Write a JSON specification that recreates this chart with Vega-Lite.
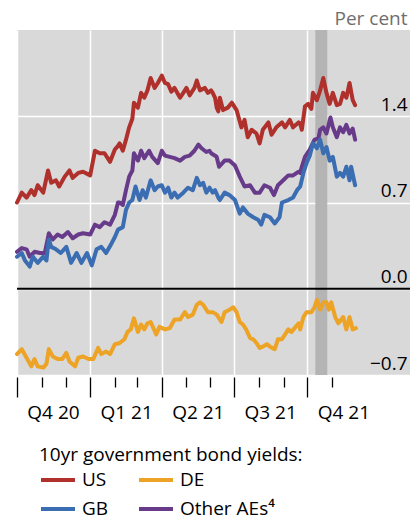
{
  "$schema": "https://vega.github.io/schema/vega-lite/v6.json",
  "width": 393,
  "height": 345,
  "autosize": {"type": "none"},
  "padding": {"left": 17, "top": 30, "right": 6, "bottom": 145},
  "background": "white",
  "view": {"fill": "#d9d9d9", "stroke": null},
  "config": {
    "font": "Open Sans",
    "axis": {"labelFont": "Open Sans", "titleFont": "Open Sans"},
    "legend": {"labelFont": "Open Sans", "titleFont": "Open Sans"}
  },
  "layer": [
    {
      "data": {"values": [{"d": "2021-10-11", "d2": "2021-10-26"}]},
      "mark": {"type": "rect", "color": "#b4b4b4"},
      "encoding": {
        "x": {"field": "d", "type": "temporal", "title": null},
        "x2": {"field": "d2"}
      }
    },
    {
      "data": {"values": [
        {"d":"2020-10-01","s":"US","v":0.70},{"d":"2020-10-07","s":"US","v":0.78},{"d":"2020-10-13","s":"US","v":0.74},{"d":"2020-10-19","s":"US","v":0.80},{"d":"2020-10-23","s":"US","v":0.76},{"d":"2020-10-27","s":"US","v":0.84},{"d":"2020-11-03","s":"US","v":0.78},{"d":"2020-11-09","s":"US","v":0.96},{"d":"2020-11-13","s":"US","v":0.86},{"d":"2020-11-19","s":"US","v":0.88},{"d":"2020-11-23","s":"US","v":0.83},{"d":"2020-11-30","s":"US","v":0.91},{"d":"2020-12-06","s":"US","v":0.96},{"d":"2020-12-10","s":"US","v":0.90},{"d":"2020-12-17","s":"US","v":0.94},{"d":"2020-12-23","s":"US","v":0.95},{"d":"2021-01-01","s":"US","v":0.92},{"d":"2021-01-07","s":"US","v":1.12},{"d":"2021-01-13","s":"US","v":1.10},{"d":"2021-01-19","s":"US","v":1.10},{"d":"2021-01-26","s":"US","v":1.03},{"d":"2021-02-01","s":"US","v":1.13},{"d":"2021-02-05","s":"US","v":1.16},{"d":"2021-02-07","s":"US","v":1.18},{"d":"2021-02-11","s":"US","v":1.12},{"d":"2021-02-15","s":"US","v":1.21},{"d":"2021-02-19","s":"US","v":1.31},{"d":"2021-02-23","s":"US","v":1.38},{"d":"2021-02-25","s":"US","v":1.51},{"d":"2021-03-02","s":"US","v":1.47},{"d":"2021-03-06","s":"US","v":1.59},{"d":"2021-03-10","s":"US","v":1.55},{"d":"2021-03-14","s":"US","v":1.61},{"d":"2021-03-18","s":"US","v":1.71},{"d":"2021-03-23","s":"US","v":1.63},{"d":"2021-03-27","s":"US","v":1.67},{"d":"2021-04-01","s":"US","v":1.73},{"d":"2021-04-05","s":"US","v":1.67},{"d":"2021-04-09","s":"US","v":1.66},{"d":"2021-04-13","s":"US","v":1.60},{"d":"2021-04-17","s":"US","v":1.63},{"d":"2021-04-24","s":"US","v":1.55},{"d":"2021-04-28","s":"US","v":1.59},{"d":"2021-05-02","s":"US","v":1.63},{"d":"2021-05-06","s":"US","v":1.57},{"d":"2021-05-12","s":"US","v":1.63},{"d":"2021-05-15","s":"US","v":1.69},{"d":"2021-05-19","s":"US","v":1.61},{"d":"2021-05-25","s":"US","v":1.63},{"d":"2021-05-29","s":"US","v":1.59},{"d":"2021-06-02","s":"US","v":1.61},{"d":"2021-06-04","s":"US","v":1.59},{"d":"2021-06-07","s":"US","v":1.55},{"d":"2021-06-09","s":"US","v":1.47},{"d":"2021-06-11","s":"US","v":1.44},{"d":"2021-06-13","s":"US","v":1.55},{"d":"2021-06-17","s":"US","v":1.45},{"d":"2021-06-23","s":"US","v":1.47},{"d":"2021-06-28","s":"US","v":1.51},{"d":"2021-07-04","s":"US","v":1.45},{"d":"2021-07-10","s":"US","v":1.31},{"d":"2021-07-14","s":"US","v":1.37},{"d":"2021-07-18","s":"US","v":1.23},{"d":"2021-07-23","s":"US","v":1.29},{"d":"2021-07-29","s":"US","v":1.26},{"d":"2021-08-02","s":"US","v":1.18},{"d":"2021-08-06","s":"US","v":1.29},{"d":"2021-08-13","s":"US","v":1.35},{"d":"2021-08-17","s":"US","v":1.25},{"d":"2021-08-23","s":"US","v":1.31},{"d":"2021-08-30","s":"US","v":1.35},{"d":"2021-09-03","s":"US","v":1.31},{"d":"2021-09-09","s":"US","v":1.37},{"d":"2021-09-13","s":"US","v":1.31},{"d":"2021-09-20","s":"US","v":1.35},{"d":"2021-09-22","s":"US","v":1.34},{"d":"2021-09-24","s":"US","v":1.29},{"d":"2021-09-28","s":"US","v":1.48},{"d":"2021-10-02","s":"US","v":1.50},{"d":"2021-10-06","s":"US","v":1.46},{"d":"2021-10-08","s":"US","v":1.59},{"d":"2021-10-13","s":"US","v":1.53},{"d":"2021-10-17","s":"US","v":1.61},{"d":"2021-10-21","s":"US","v":1.71},{"d":"2021-10-25","s":"US","v":1.59},{"d":"2021-10-29","s":"US","v":1.50},{"d":"2021-11-02","s":"US","v":1.59},{"d":"2021-11-07","s":"US","v":1.49},{"d":"2021-11-11","s":"US","v":1.50},{"d":"2021-11-15","s":"US","v":1.59},{"d":"2021-11-19","s":"US","v":1.55},{"d":"2021-11-23","s":"US","v":1.67},{"d":"2021-11-27","s":"US","v":1.53},{"d":"2021-11-30","s":"US","v":1.49},
        {"d":"2020-10-01","s":"DE","v":-0.53},{"d":"2020-10-07","s":"DE","v":-0.49},{"d":"2020-10-13","s":"DE","v":-0.56},{"d":"2020-10-19","s":"DE","v":-0.63},{"d":"2020-10-23","s":"DE","v":-0.57},{"d":"2020-10-27","s":"DE","v":-0.63},{"d":"2020-11-03","s":"DE","v":-0.64},{"d":"2020-11-07","s":"DE","v":-0.61},{"d":"2020-11-10","s":"DE","v":-0.49},{"d":"2020-11-15","s":"DE","v":-0.55},{"d":"2020-11-21","s":"DE","v":-0.57},{"d":"2020-11-27","s":"DE","v":-0.57},{"d":"2020-12-02","s":"DE","v":-0.52},{"d":"2020-12-06","s":"DE","v":-0.59},{"d":"2020-12-13","s":"DE","v":-0.63},{"d":"2020-12-17","s":"DE","v":-0.56},{"d":"2020-12-23","s":"DE","v":-0.55},{"d":"2020-12-30","s":"DE","v":-0.57},{"d":"2021-01-05","s":"DE","v":-0.57},{"d":"2021-01-11","s":"DE","v":-0.48},{"d":"2021-01-15","s":"DE","v":-0.53},{"d":"2021-01-21","s":"DE","v":-0.51},{"d":"2021-01-26","s":"DE","v":-0.53},{"d":"2021-02-01","s":"DE","v":-0.45},{"d":"2021-02-07","s":"DE","v":-0.44},{"d":"2021-02-13","s":"DE","v":-0.41},{"d":"2021-02-17","s":"DE","v":-0.35},{"d":"2021-02-21","s":"DE","v":-0.33},{"d":"2021-02-25","s":"DE","v":-0.24},{"d":"2021-03-02","s":"DE","v":-0.35},{"d":"2021-03-06","s":"DE","v":-0.29},{"d":"2021-03-10","s":"DE","v":-0.33},{"d":"2021-03-14","s":"DE","v":-0.28},{"d":"2021-03-18","s":"DE","v":-0.27},{"d":"2021-03-25","s":"DE","v":-0.37},{"d":"2021-03-29","s":"DE","v":-0.31},{"d":"2021-04-05","s":"DE","v":-0.33},{"d":"2021-04-11","s":"DE","v":-0.32},{"d":"2021-04-17","s":"DE","v":-0.25},{"d":"2021-04-24","s":"DE","v":-0.25},{"d":"2021-04-30","s":"DE","v":-0.19},{"d":"2021-05-04","s":"DE","v":-0.23},{"d":"2021-05-10","s":"DE","v":-0.21},{"d":"2021-05-15","s":"DE","v":-0.13},{"d":"2021-05-19","s":"DE","v":-0.11},{"d":"2021-05-23","s":"DE","v":-0.13},{"d":"2021-05-29","s":"DE","v":-0.19},{"d":"2021-06-04","s":"DE","v":-0.19},{"d":"2021-06-09","s":"DE","v":-0.21},{"d":"2021-06-15","s":"DE","v":-0.27},{"d":"2021-06-19","s":"DE","v":-0.19},{"d":"2021-06-25","s":"DE","v":-0.17},{"d":"2021-06-30","s":"DE","v":-0.15},{"d":"2021-07-04","s":"DE","v":-0.19},{"d":"2021-07-08","s":"DE","v":-0.27},{"d":"2021-07-12","s":"DE","v":-0.29},{"d":"2021-07-16","s":"DE","v":-0.33},{"d":"2021-07-21","s":"DE","v":-0.40},{"d":"2021-07-25","s":"DE","v":-0.41},{"d":"2021-07-29","s":"DE","v":-0.44},{"d":"2021-08-02","s":"DE","v":-0.48},{"d":"2021-08-06","s":"DE","v":-0.47},{"d":"2021-08-11","s":"DE","v":-0.45},{"d":"2021-08-15","s":"DE","v":-0.47},{"d":"2021-08-21","s":"DE","v":-0.49},{"d":"2021-08-25","s":"DE","v":-0.41},{"d":"2021-08-30","s":"DE","v":-0.41},{"d":"2021-09-03","s":"DE","v":-0.37},{"d":"2021-09-07","s":"DE","v":-0.33},{"d":"2021-09-11","s":"DE","v":-0.35},{"d":"2021-09-16","s":"DE","v":-0.31},{"d":"2021-09-20","s":"DE","v":-0.28},{"d":"2021-09-22","s":"DE","v":-0.33},{"d":"2021-09-26","s":"DE","v":-0.23},{"d":"2021-09-30","s":"DE","v":-0.19},{"d":"2021-10-06","s":"DE","v":-0.19},{"d":"2021-10-10","s":"DE","v":-0.15},{"d":"2021-10-13","s":"DE","v":-0.09},{"d":"2021-10-17","s":"DE","v":-0.17},{"d":"2021-10-21","s":"DE","v":-0.11},{"d":"2021-10-25","s":"DE","v":-0.11},{"d":"2021-10-28","s":"DE","v":-0.17},{"d":"2021-10-31","s":"DE","v":-0.11},{"d":"2021-11-05","s":"DE","v":-0.23},{"d":"2021-11-09","s":"DE","v":-0.28},{"d":"2021-11-15","s":"DE","v":-0.23},{"d":"2021-11-19","s":"DE","v":-0.33},{"d":"2021-11-23","s":"DE","v":-0.23},{"d":"2021-11-27","s":"DE","v":-0.33},{"d":"2021-12-01","s":"DE","v":-0.32},
        {"d":"2020-10-01","s":"Other AEs","v":0.30},{"d":"2020-10-07","s":"Other AEs","v":0.33},{"d":"2020-10-13","s":"Other AEs","v":0.32},{"d":"2020-10-17","s":"Other AEs","v":0.26},{"d":"2020-10-23","s":"Other AEs","v":0.30},{"d":"2020-10-30","s":"Other AEs","v":0.29},{"d":"2020-11-05","s":"Other AEs","v":0.29},{"d":"2020-11-10","s":"Other AEs","v":0.45},{"d":"2020-11-15","s":"Other AEs","v":0.40},{"d":"2020-11-21","s":"Other AEs","v":0.44},{"d":"2020-11-27","s":"Other AEs","v":0.42},{"d":"2020-12-04","s":"Other AEs","v":0.46},{"d":"2020-12-10","s":"Other AEs","v":0.41},{"d":"2020-12-17","s":"Other AEs","v":0.44},{"d":"2020-12-23","s":"Other AEs","v":0.45},{"d":"2021-01-01","s":"Other AEs","v":0.44},{"d":"2021-01-07","s":"Other AEs","v":0.52},{"d":"2021-01-13","s":"Other AEs","v":0.50},{"d":"2021-01-19","s":"Other AEs","v":0.54},{"d":"2021-01-26","s":"Other AEs","v":0.52},{"d":"2021-02-01","s":"Other AEs","v":0.60},{"d":"2021-02-05","s":"Other AEs","v":0.70},{"d":"2021-02-07","s":"Other AEs","v":0.70},{"d":"2021-02-11","s":"Other AEs","v":0.68},{"d":"2021-02-15","s":"Other AEs","v":0.80},{"d":"2021-02-19","s":"Other AEs","v":0.91},{"d":"2021-02-23","s":"Other AEs","v":0.96},{"d":"2021-02-25","s":"Other AEs","v":1.10},{"d":"2021-03-02","s":"Other AEs","v":1.04},{"d":"2021-03-06","s":"Other AEs","v":1.12},{"d":"2021-03-10","s":"Other AEs","v":1.06},{"d":"2021-03-16","s":"Other AEs","v":1.12},{"d":"2021-03-20","s":"Other AEs","v":1.07},{"d":"2021-03-27","s":"Other AEs","v":1.02},{"d":"2021-04-01","s":"Other AEs","v":1.12},{"d":"2021-04-05","s":"Other AEs","v":1.08},{"d":"2021-04-11","s":"Other AEs","v":1.07},{"d":"2021-04-17","s":"Other AEs","v":1.06},{"d":"2021-04-24","s":"Other AEs","v":1.04},{"d":"2021-04-30","s":"Other AEs","v":1.07},{"d":"2021-05-06","s":"Other AEs","v":1.08},{"d":"2021-05-12","s":"Other AEs","v":1.12},{"d":"2021-05-17","s":"Other AEs","v":1.17},{"d":"2021-05-21","s":"Other AEs","v":1.14},{"d":"2021-05-27","s":"Other AEs","v":1.11},{"d":"2021-05-31","s":"Other AEs","v":1.12},{"d":"2021-06-02","s":"Other AEs","v":1.10},{"d":"2021-06-07","s":"Other AEs","v":1.08},{"d":"2021-06-09","s":"Other AEs","v":1.07},{"d":"2021-06-12","s":"Other AEs","v":0.99},{"d":"2021-06-19","s":"Other AEs","v":1.04},{"d":"2021-06-25","s":"Other AEs","v":1.04},{"d":"2021-07-02","s":"Other AEs","v":1.00},{"d":"2021-07-08","s":"Other AEs","v":0.91},{"d":"2021-07-14","s":"Other AEs","v":0.83},{"d":"2021-07-21","s":"Other AEs","v":0.84},{"d":"2021-07-27","s":"Other AEs","v":0.78},{"d":"2021-08-02","s":"Other AEs","v":0.78},{"d":"2021-08-08","s":"Other AEs","v":0.84},{"d":"2021-08-15","s":"Other AEs","v":0.82},{"d":"2021-08-20","s":"Other AEs","v":0.76},{"d":"2021-08-25","s":"Other AEs","v":0.84},{"d":"2021-08-30","s":"Other AEs","v":0.87},{"d":"2021-09-07","s":"Other AEs","v":0.92},{"d":"2021-09-13","s":"Other AEs","v":0.92},{"d":"2021-09-20","s":"Other AEs","v":0.95},{"d":"2021-09-22","s":"Other AEs","v":0.94},{"d":"2021-09-24","s":"Other AEs","v":0.99},{"d":"2021-09-28","s":"Other AEs","v":1.07},{"d":"2021-10-04","s":"Other AEs","v":1.13},{"d":"2021-10-10","s":"Other AEs","v":1.21},{"d":"2021-10-15","s":"Other AEs","v":1.22},{"d":"2021-10-17","s":"Other AEs","v":1.29},{"d":"2021-10-21","s":"Other AEs","v":1.31},{"d":"2021-10-25","s":"Other AEs","v":1.26},{"d":"2021-10-30","s":"Other AEs","v":1.39},{"d":"2021-11-02","s":"Other AEs","v":1.31},{"d":"2021-11-07","s":"Other AEs","v":1.23},{"d":"2021-11-11","s":"Other AEs","v":1.31},{"d":"2021-11-15","s":"Other AEs","v":1.27},{"d":"2021-11-19","s":"Other AEs","v":1.33},{"d":"2021-11-23","s":"Other AEs","v":1.26},{"d":"2021-11-27","s":"Other AEs","v":1.30},{"d":"2021-11-30","s":"Other AEs","v":1.21},
        {"d":"2020-10-01","s":"GB","v":0.26},{"d":"2020-10-07","s":"GB","v":0.29},{"d":"2020-10-11","s":"GB","v":0.23},{"d":"2020-10-17","s":"GB","v":0.18},{"d":"2020-10-21","s":"GB","v":0.26},{"d":"2020-10-27","s":"GB","v":0.21},{"d":"2020-11-03","s":"GB","v":0.26},{"d":"2020-11-07","s":"GB","v":0.23},{"d":"2020-11-10","s":"GB","v":0.40},{"d":"2020-11-13","s":"GB","v":0.34},{"d":"2020-11-19","s":"GB","v":0.32},{"d":"2020-11-25","s":"GB","v":0.29},{"d":"2020-12-02","s":"GB","v":0.34},{"d":"2020-12-08","s":"GB","v":0.21},{"d":"2020-12-15","s":"GB","v":0.29},{"d":"2020-12-21","s":"GB","v":0.21},{"d":"2020-12-28","s":"GB","v":0.29},{"d":"2021-01-03","s":"GB","v":0.19},{"d":"2021-01-09","s":"GB","v":0.32},{"d":"2021-01-15","s":"GB","v":0.34},{"d":"2021-01-21","s":"GB","v":0.29},{"d":"2021-01-28","s":"GB","v":0.37},{"d":"2021-02-01","s":"GB","v":0.42},{"d":"2021-02-05","s":"GB","v":0.48},{"d":"2021-02-11","s":"GB","v":0.50},{"d":"2021-02-15","s":"GB","v":0.64},{"d":"2021-02-19","s":"GB","v":0.70},{"d":"2021-02-23","s":"GB","v":0.72},{"d":"2021-02-27","s":"GB","v":0.83},{"d":"2021-03-04","s":"GB","v":0.72},{"d":"2021-03-08","s":"GB","v":0.80},{"d":"2021-03-12","s":"GB","v":0.74},{"d":"2021-03-18","s":"GB","v":0.88},{"d":"2021-03-23","s":"GB","v":0.80},{"d":"2021-03-27","s":"GB","v":0.83},{"d":"2021-04-01","s":"GB","v":0.84},{"d":"2021-04-05","s":"GB","v":0.78},{"d":"2021-04-09","s":"GB","v":0.82},{"d":"2021-04-13","s":"GB","v":0.74},{"d":"2021-04-17","s":"GB","v":0.78},{"d":"2021-04-21","s":"GB","v":0.74},{"d":"2021-04-28","s":"GB","v":0.78},{"d":"2021-05-04","s":"GB","v":0.82},{"d":"2021-05-10","s":"GB","v":0.80},{"d":"2021-05-15","s":"GB","v":0.90},{"d":"2021-05-19","s":"GB","v":0.84},{"d":"2021-05-23","s":"GB","v":0.86},{"d":"2021-05-27","s":"GB","v":0.78},{"d":"2021-05-31","s":"GB","v":0.82},{"d":"2021-06-04","s":"GB","v":0.78},{"d":"2021-06-07","s":"GB","v":0.80},{"d":"2021-06-11","s":"GB","v":0.74},{"d":"2021-06-13","s":"GB","v":0.72},{"d":"2021-06-19","s":"GB","v":0.78},{"d":"2021-06-25","s":"GB","v":0.76},{"d":"2021-07-02","s":"GB","v":0.72},{"d":"2021-07-08","s":"GB","v":0.61},{"d":"2021-07-12","s":"GB","v":0.66},{"d":"2021-07-18","s":"GB","v":0.61},{"d":"2021-07-25","s":"GB","v":0.58},{"d":"2021-07-31","s":"GB","v":0.56},{"d":"2021-08-04","s":"GB","v":0.52},{"d":"2021-08-08","s":"GB","v":0.60},{"d":"2021-08-15","s":"GB","v":0.58},{"d":"2021-08-21","s":"GB","v":0.53},{"d":"2021-08-27","s":"GB","v":0.58},{"d":"2021-08-30","s":"GB","v":0.70},{"d":"2021-09-07","s":"GB","v":0.72},{"d":"2021-09-13","s":"GB","v":0.74},{"d":"2021-09-18","s":"GB","v":0.80},{"d":"2021-09-22","s":"GB","v":0.83},{"d":"2021-09-26","s":"GB","v":0.94},{"d":"2021-09-30","s":"GB","v":1.02},{"d":"2021-10-04","s":"GB","v":1.08},{"d":"2021-10-08","s":"GB","v":1.18},{"d":"2021-10-13","s":"GB","v":1.14},{"d":"2021-10-17","s":"GB","v":1.21},{"d":"2021-10-21","s":"GB","v":1.10},{"d":"2021-10-25","s":"GB","v":1.15},{"d":"2021-10-29","s":"GB","v":1.04},{"d":"2021-11-02","s":"GB","v":1.07},{"d":"2021-11-07","s":"GB","v":0.91},{"d":"2021-11-11","s":"GB","v":0.94},{"d":"2021-11-15","s":"GB","v":0.91},{"d":"2021-11-19","s":"GB","v":0.99},{"d":"2021-11-23","s":"GB","v":0.88},{"d":"2021-11-25","s":"GB","v":0.99},{"d":"2021-11-30","s":"GB","v":0.84}
      ]},
      "mark": {"type": "line", "strokeWidth": 4, "strokeJoin": "round", "strokeCap": "round"},
      "encoding": {
        "x": {
          "field": "d", "type": "temporal", "title": null,
          "scale": {"type": "utc", "domain": [1601510400000, 1644192000000]},
          "axis": {
            "values": [1601510400000, 1604188800000, 1606780800000, 1609459200000, 1612137600000, 1614556800000, 1617235200000, 1619827200000, 1622505600000, 1625097600000, 1627776000000, 1630454400000, 1633046400000, 1635724800000],
            "tickCount": 40,
            "labelExpr": "utcmonth(datum.value) % 3 == 0 ? 'Q' + (floor(utcmonth(datum.value) / 3) + 1) + ' ' + utcFormat(datum.value, '%y') : ''",
            "labelOverlap": false,
            "labelFlush": false,
            "labelBound": false,
            "labelFontSize": 19,
            "labelColor": "#000000",
            "labelAlign": "center",
            "labelBaseline": "top",
            "labelOffset": 36,
            "labelPadding": 6,
            "offset": 2,
            "domain": false,
            "tickColor": "#000000",
            "tickWidth": 1.3,
            "tickSize": {"condition": {"test": "utcmonth(datum.value) % 3 == 0", "value": 20}, "value": 10},
            "grid": true,
            "gridColor": "#ffffff",
            "gridWidth": 1.5,
            "gridOpacity": {"condition": {"test": "utcmonth(datum.value) % 3 == 0", "value": 1}, "value": 0}
          }
        },
        "y": {
          "field": "v", "type": "quantitative",
          "scale": {"domain": [-0.7, 2.1], "nice": false, "zero": false},
          "axis": {
            "orient": "right",
            "values": [-0.7, 0, 0.7, 1.4],
            "format": ".1f",
            "title": "Per cent",
            "titleAngle": 0,
            "titleAlign": "right",
            "titleBaseline": "alphabetic",
            "titleX": -3,
            "titleY": -6,
            "titleFontSize": 19,
            "titleFontWeight": "normal",
            "titleColor": "#6e6e6e",
            "domain": false,
            "ticks": false,
            "tickSize": 0,
            "labelAlign": "right",
            "labelBaseline": "alphabetic",
            "labelPadding": -3,
            "labelOffset": -6,
            "labelFontSize": 19,
            "labelColor": "#000000",
            "grid": true,
            "gridColor": "#ffffff",
            "gridWidth": 1.5
          }
        },
        "color": {
          "field": "s", "type": "nominal",
          "scale": {"domain": ["US", "GB", "DE", "Other AEs"], "range": ["#b0302c", "#3b6db3", "#eda325", "#673a8a"]},
          "legend": {
            "orient": "none",
            "legendX": 22,
            "legendY": 416,
            "columns": 2,
            "title": "10yr government bond yields:",
            "titleLimit": 400,
            "labelLimit": 200,
            "titleFontSize": 19,
            "titleFontWeight": "normal",
            "titleColor": "#000000",
            "titlePadding": -4,
            "labelFontSize": 19,
            "labelColor": "#000000",
            "labelOffset": 5,
            "labelExpr": "datum.label == 'Other AEs' ? 'Other AEs⁴' : datum.label",
            "symbolType": "stroke",
            "symbolStrokeWidth": 4,
            "symbolSize": 1156,
            "columnPadding": 22,
            "rowPadding": 0
          }
        }
      }
    },
    {
      "data": {"values": [{"v": 0}]},
      "mark": {"type": "rule", "color": "#000000", "strokeWidth": 2},
      "encoding": {
        "y": {"field": "v", "type": "quantitative"}
      }
    }
  ]
}
